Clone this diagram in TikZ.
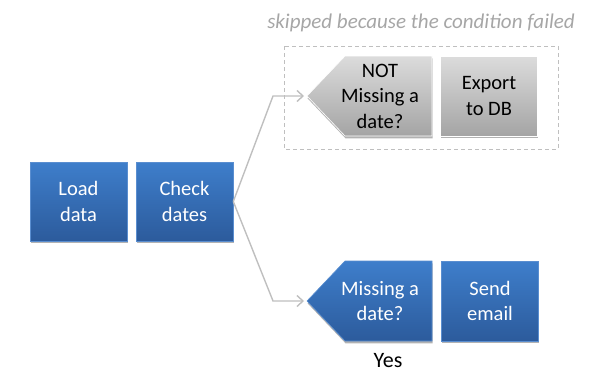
\documentclass[tikz,border=0pt]{standalone}
\usepackage{fontspec}
\setmainfont{Carlito}
\definecolor{boxtop}{HTML}{3E7ECB}
\definecolor{boxbot}{HTML}{2C5B9C}
\definecolor{boxrim}{HTML}{5A8ED0}
\definecolor{greytop}{HTML}{DCDCDC}
\definecolor{greybot}{HTML}{A4A4A4}
\definecolor{linegrey}{HTML}{BFBFBF}
\definecolor{notegrey}{HTML}{A6A6A6}
\usetikzlibrary{arrows.meta, positioning, calc, shadows}

\tikzset{
  boxshadow/.style={drop shadow={shadow xshift=0.6pt, shadow yshift=-2.4pt, opacity=0.3, fill=black}},
  bluebox/.style={boxshadow, top color=boxtop, bottom color=boxbot, draw=boxrim, line width=0.6pt},
  greybox/.style={boxshadow, top color=greytop, bottom color=greybot, draw=white, line width=0.6pt},
  stepnode/.style={minimum width=97pt, minimum height=79pt, inner sep=0pt, align=center,
                   font=\fontsize{20.5}{25.5}\selectfont},
  flow/.style={draw=linegrey, line width=1.4pt, -{Straight Barb[length=6pt, width=11pt]}},
}

\begin{document}
\begin{tikzpicture}[x=1pt, y=-1pt]
  \useasboundingbox (0,0) rectangle (604,388);
  % Note above the skipped branch
  \node[font=\fontsize{21}{25}\selectfont\itshape, text=notegrey] (note) at (421,23)
        {skipped because the condition failed};
  \draw[linegrey, line width=0.9pt, dash pattern=on 4pt off 3pt] (284,46) rectangle (558,149);
  % First two steps
  \node[stepnode, bluebox, text=white] (load) at (78.5,201.5) {Load\\data};
  \node[stepnode, bluebox, text=white] (check) at (184.5,201.5) {Check\\dates};
  % Skipped branch
  \coordinate (tiptop) at (307,96);
  \path[greybox] (tiptop) -- (345,56) -- (432,56) -- (432,136) -- (345,136) -- cycle;
  \node[stepnode, minimum width=80pt] (notmiss) at (380,96) {NOT\\Missing a\\date?};
  \node[stepnode, greybox, minimum height=80pt] (export) at (489,96) {Export\\to DB};
  % Taken branch
  \coordinate (tipbot) at (307,301);
  \path[bluebox] (tipbot) -- (345,261) -- (432,261) -- (432,341) -- (345,341) -- cycle;
  \node[stepnode, minimum width=80pt, text=white] (miss) at (380,301) {Missing a\\date?};
  \node[stepnode, bluebox, text=white, minimum height=80pt] (email) at (490,301) {Send\\email};
  \node[font=\fontsize{22}{26}\selectfont] (yes) at (388,361) {Yes};
  % Connectors
  \coordinate (bendtop) at (273,96);
  \coordinate (bendbot) at (273,301);
  \draw[flow] (check.east) -- (bendtop) -- ([xshift=-3pt]tiptop);
  \draw[flow] (check.east) -- (bendbot) -- ([xshift=-3pt]tipbot);
\end{tikzpicture}
\end{document}
